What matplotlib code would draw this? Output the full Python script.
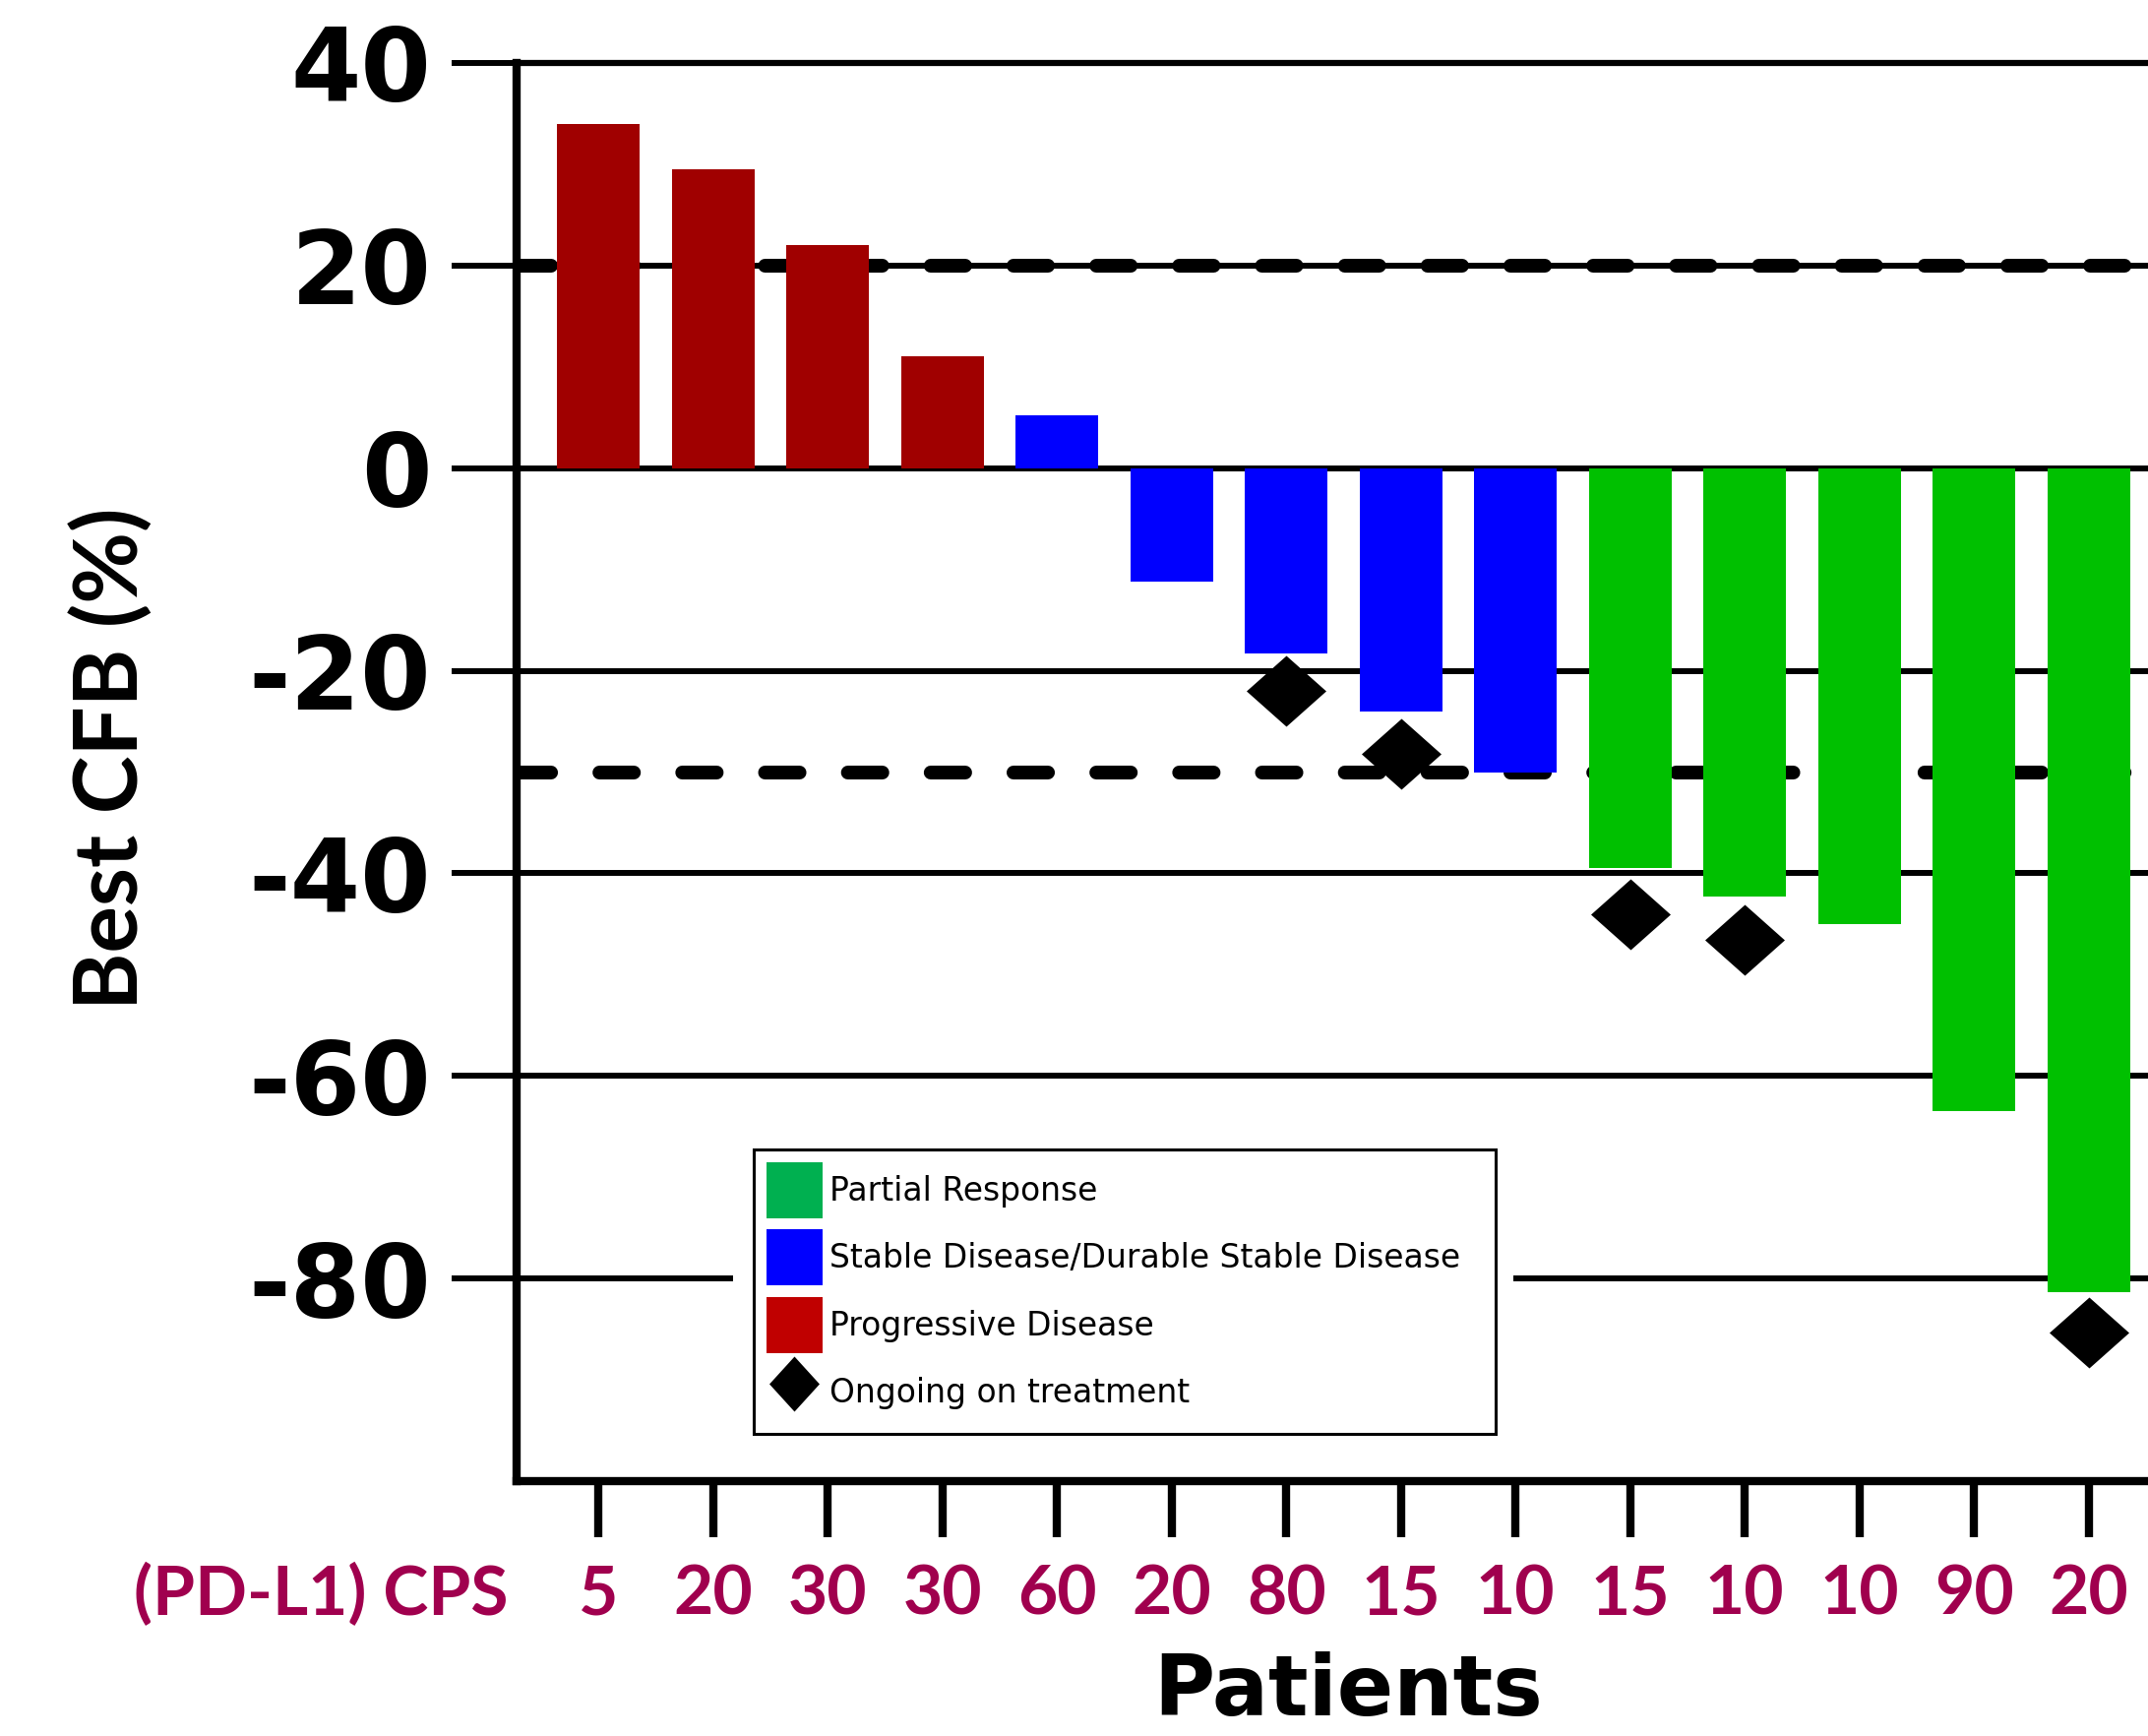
import matplotlib
matplotlib.use("Agg")
import matplotlib.pyplot as plt
from matplotlib.patches import Patch, Rectangle
from matplotlib.lines import Line2D
from matplotlib.path import Path

# Per-patient data, in plotting order
cps_scores = ["5", "20", "30", "30", "60", "20", "80", "15", "10", "15", "10", "10", "90", "20"]
best_cfb = [34.0, 29.5, 22.0, 11.0, 5.2, -11.2, -18.3, -24.0, -30.0, -39.5, -42.3, -45.0, -63.5, -81.3]
response = ["PD", "PD", "PD", "PD", "SD", "SD", "SD", "SD", "SD", "PR", "PR", "PR", "PR", "PR"]

# Patients still on treatment and where their flag sits
ongoing_idx = [6, 7, 9, 10, 13]
ongoing_y = [-22.0, -28.2, -44.0, -46.6, -85.3]

y_ticks = [-80, -60, -40, -20, 0, 20, 40]
y_tick_labels = ["-80", "-60", "-40", "-20", "0", "20", "40"]
ref_lines = [20, -30]  # progression / response thresholds

bar_colors = {"PR": "#00C000", "SD": "#0000FF", "PD": "#A00000"}
legend_colors = {"PR": "#00B050", "SD": "#0000FF", "PD": "#C00000"}
legend_labels = {
    "PR": "Partial Response",
    "SD": "Stable Disease/Durable Stable Disease",
    "PD": "Progressive Disease",
}
cps_color = "#A0004E"

plt.rcParams["font.family"] = ["DejaVu Sans"]

W, H = 2183, 1764
fig = plt.figure(figsize=(W / 100, H / 100), dpi=100)
ax = fig.add_axes([525 / W, 1 - 1505 / H, (2206 - 525) / W, (1505 - 64) / H])

# diamond markers (wide one for the plot, tall one for the legend)
codes = [Path.MOVETO, Path.LINETO, Path.LINETO, Path.LINETO, Path.CLOSEPOLY]
wide_diamond = Path([(-1, 0), (0, 0.889), (1, 0), (0, -0.889), (-1, 0)], codes)
tall_diamond = Path([(-0.91, 0), (0, 1), (0.91, 0), (0, -1), (-0.91, 0)], codes)

x = list(range(len(best_cfb)))
ax.bar(x, best_cfb, width=0.72, color=[bar_colors[r] for r in response],
       linewidth=0, zorder=2)

ax.plot(ongoing_idx, ongoing_y, ls="none", marker=wide_diamond, ms=58.3,
        mfc="k", mec="k", mew=0, zorder=3, clip_on=False)

for v in ref_lines:
    ax.axhline(v, color="k", lw=10.1, ls=(0, (2.5, 3.5)),
               dash_capstyle="round", zorder=1.5)

ax.set_xlim(-0.716, 13.716)
ax.set_ylim(-100, 40)

ax.set_axisbelow(True)
ax.yaxis.grid(True, color="k", lw=4.3)

for side in ("left", "bottom"):
    ax.spines[side].set_linewidth(6)
    ax.spines[side].set_capstyle("projecting")
ax.spines["top"].set_linewidth(4.5)
ax.spines["right"].set_visible(False)

ax.set_yticks(y_ticks, labels=y_tick_labels, fontsize=74, fontweight="bold")
ax.tick_params(axis="y", length=47.5, width=4.3, pad=14.8, direction="out")

ax.set_xticks(x, labels=cps_scores, fontsize=50, fontweight="bold",
              color=cps_color, family="Lato")
ax.tick_params(axis="x", length=41, width=6, pad=20, direction="out")

# legend
handles = [Patch(facecolor=legend_colors[k], edgecolor="none", label=legend_labels[k])
           for k in ("PR", "SD", "PD")]
handles.append(Line2D([], [], ls="none", marker=tall_diamond, ms=40.3, mfc="k",
                      mec="k", mew=0, label="Ongoing on treatment"))
leg = ax.legend(handles=handles, loc="upper left",
                bbox_to_anchor=(766 / W, 1 - 1456 / H, 754 / W, 288 / H),
                bbox_transform=fig.transFigure, mode="expand", borderaxespad=0,
                fontsize=23.7, frameon=True, fancybox=False, edgecolor="k",
                framealpha=1, borderpad=0.39, labelspacing=0.355,
                handlelength=1.727, handleheight=2.285, handletextpad=0.21)
leg.get_frame().set_linewidth(2.2)
leg.set_zorder(5)

# white margin around the legend box
ax.add_artist(Rectangle((745 / W, 1 - 1464 / H), (1538 - 745) / W, (1464 - 1160) / H,
                        transform=fig.transFigure, facecolor="white",
                        edgecolor="none", zorder=4))

fig.text(517 / W, 1 - 1641 / H, "(PD-L1) CPS", ha="right", va="baseline",
         fontsize=50, fontweight="bold", family="Lato", color=cps_color)
fig.text(1370 / W, 1 - 1743 / H, "Patients", ha="center", va="baseline",
         fontsize=61, fontweight="bold")
fig.text(113 / W, 1 - 771 / H, "Best CFB (%)", rotation=90, ha="center",
         va="center", fontsize=64, fontweight="bold", family="Lato")

fig.savefig("out.png", dpi=100)
